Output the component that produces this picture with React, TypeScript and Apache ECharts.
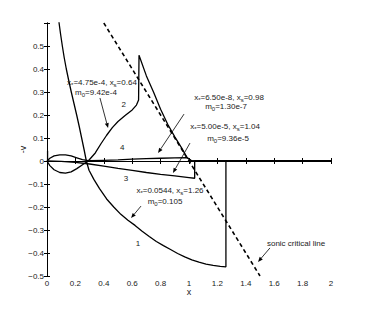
import React, { useEffect, useRef } from 'react';
import * as echarts from 'echarts';

// ---- data (x, -v) ----
const curve1: number[][] = [
  [0.08, 0.65], [0.085, 0.6], [0.096, 0.55], [0.108, 0.5], [0.121, 0.45], [0.136, 0.4],
  [0.153, 0.35], [0.171, 0.3], [0.19, 0.25], [0.209, 0.2], [0.227, 0.15], [0.244, 0.1],
  [0.261, 0.05], [0.277, 0], [0.296, -0.04], [0.33, -0.08], [0.37, -0.12], [0.42, -0.165],
  [0.47, -0.2], [0.52, -0.232], [0.57, -0.258], [0.62, -0.28], [0.67, -0.305], [0.72, -0.328],
  [0.77, -0.35], [0.82, -0.368], [0.87, -0.385], [0.92, -0.402], [0.97, -0.417], [1.02, -0.43],
  [1.07, -0.44], [1.12, -0.448], [1.17, -0.454], [1.22, -0.458], [1.26, -0.46], [1.26, 0], [2, 0],
];
const curve2: number[][] = [
  [0, 0], [0.02, -0.02], [0.05, -0.038], [0.09, -0.05], [0.13, -0.053], [0.17, -0.047],
  [0.21, -0.033], [0.25, -0.016], [0.29, 0], [0.34, 0.035], [0.38, 0.075], [0.42, 0.112],
  [0.46, 0.145], [0.5, 0.172], [0.55, 0.198], [0.6, 0.222], [0.63, 0.243], [0.645, 0.265],
  [0.648, 0.46], [0.7, 0.37], [0.75, 0.3], [0.8, 0.225], [0.85, 0.16], [0.9, 0.105],
  [0.95, 0.055], [0.985, 0.015], [1.02, 0], [2, 0],
];
const curve3: number[][] = [
  [0, 0], [0.1, -0.002], [0.2, -0.006], [0.3, -0.013], [0.4, -0.022], [0.5, -0.032],
  [0.6, -0.041], [0.7, -0.05], [0.8, -0.058], [0.9, -0.065], [1.0, -0.072], [1.04, -0.075],
  [1.04, 0], [2, 0],
];
const curve4: number[][] = [
  [0, 0], [0.02, 0.012], [0.05, 0.022], [0.09, 0.027], [0.13, 0.027], [0.17, 0.022],
  [0.21, 0.014], [0.25, 0.006], [0.3, 0.001], [0.4, 0.003], [0.5, 0.005], [0.6, 0.008],
  [0.7, 0.01], [0.8, 0.012], [0.9, 0.014], [0.985, 0.015], [1.02, 0], [2, 0],
];
const originSpike: number[][] = [[0.004, 0], [0.004, 0.045]];
const sonicLine: number[][] = [[0.4, 0.6], [1.5, -0.5]];

const curveLabels = [
  { text: '1', pos: [0.64, -0.36] },
  { text: '2', pos: [0.54, 0.245] },
  { text: '3', pos: [0.556, -0.074] },
  { text: '4', pos: [0.53, 0.06] },
];

const annotations = [
  { line1: '{n|x}{s|*}{n|=4.75e-4, x}{s|s}{n|=0.64}', line2: '{n|m}{s|0}{n|=9.42e-4}',
    p1: [0.387, 0.343], p2: [0.345, 0.296], from: [0.373, 0.274], to: [0.43, 0.143] },
  { line1: '{n|x}{s|*}{n|=6.50e-8, x}{s|s}{n|=0.98}', line2: '{n|m}{s|0}{n|=1.30e-7}',
    p1: [1.282, 0.278], p2: [1.261, 0.235], from: [0.965, 0.204], to: [0.782, 0.035] },
  { line1: '{n|x}{s|*}{n|=5.00e-5, x}{s|s}{n|=1.04}', line2: '{n|m}{s|0}{n|=9.36e-5}',
    p1: [1.254, 0.148], p2: [1.275, 0.1], from: [1.007, 0.078], to: [0.887, -0.052] },
  { line1: '{n|x}{s|*}{n|=0.0544, x}{s|s}{n|=1.26}', line2: '{n|m}{s|0}{n|=0.105}',
    p1: [0.866, -0.13], p2: [0.831, -0.174], from: [0.662, -0.196], to: [0.592, -0.248] },
];
const sonicNote = { text: 'sonic critical line', pos: [1.754, -0.357], from: [1.57, -0.378], to: [1.486, -0.439] };

const FONT = '"Liberation Sans", Arial, Helvetica, sans-serif';
const TXT = '#222';

export default function App() {
  const ref = useRef<HTMLDivElement>(null);
  useEffect(() => {
    if (!ref.current) return;
    const chart = echarts.init(ref.current, undefined, { renderer: 'svg' });
    const axisCommon = {
      type: 'value' as const,
      axisLine: { show: true, lineStyle: { color: '#000', width: 1 } },
      axisTick: { show: true, inside: true, length: 3, lineStyle: { color: '#000' } },
      splitLine: { show: false },
    };
    const lineSeries = (data: number[][], dashed = false) => ({
      type: 'line',
      data,
      showSymbol: false,
      symbol: 'none',
      silent: true,
      clip: true,
      lineStyle: { color: '#000', width: dashed ? 1.6 : 1.3, type: dashed ? [4, 3] : 'solid' },
      xAxisIndex: 0,
      yAxisIndex: 0,
    });
    chart.setOption({
      animation: false,
      backgroundColor: '#fff',
      grid: { left: 47, right: 35, top: 23, bottom: 35 },
      xAxis: [
        {
          ...axisCommon, position: 'bottom', min: 0, max: 2, interval: 0.2,
          name: 'x', nameLocation: 'middle', nameGap: 11, nameMoveOverlap: false,
          nameTextStyle: { fontSize: 9, color: TXT, fontFamily: FONT },
          axisLabel: { fontSize: 8, color: TXT, fontFamily: FONT, margin: 3 },
        },
        {
          ...axisCommon, position: 'top', min: 0, max: 2, interval: 0.2,
          axisLabel: { show: false },
        },
      ],
      yAxis: [
        {
          ...axisCommon, position: 'left', min: -0.5, max: 0.6, interval: 0.1,
          name: '-v', nameLocation: 'middle', nameGap: 20, nameRotate: 90, nameMoveOverlap: false,
          nameTextStyle: { fontSize: 9, color: TXT, fontFamily: FONT },
          axisLabel: {
            fontSize: 8, color: TXT, fontFamily: FONT, margin: 3,
            formatter: (v: number) => {
              const r = Math.round(v * 10) / 10;
              if (r >= 0.6) return '';
              return r < 0 ? '\u2212' + Math.abs(r) : String(r);
            },
          },
        },
        {
          ...axisCommon, position: 'right', min: -0.5, max: 0.6, interval: 0.1,
          axisLabel: { show: false },
        },
      ],
      series: [
        lineSeries(sonicLine, true),
        lineSeries(curve1),
        lineSeries(curve2),
        lineSeries(curve3),
        lineSeries(curve4),
        lineSeries(originSpike),
      ],
    });

    const px = (p: number[]) => chart.convertToPixel({ gridIndex: 0 }, p) as number[];
    const arrow = (a: number[], b: number[]) => {
      const p0 = px(a), p1 = px(b);
      const dx = p1[0] - p0[0], dy = p1[1] - p0[1];
      const len = Math.hypot(dx, dy) || 1;
      const ux = dx / len, uy = dy / len;
      const L = 5, W = 2;
      const bx = p1[0] - ux * L, by = p1[1] - uy * L;
      return [
        { type: 'line', silent: true, shape: { x1: p0[0], y1: p0[1], x2: bx, y2: by }, style: { stroke: '#000', lineWidth: 0.8 } },
        { type: 'polygon', silent: true, shape: { points: [[p1[0], p1[1]], [bx - uy * W, by + ux * W], [bx + uy * W, by - ux * W]] }, style: { fill: '#000' } },
      ];
    };
    const rich = {
      n: { fontSize: 8, lineHeight: 11, fontFamily: FONT, color: TXT },
      s: { fontSize: 6, lineHeight: 6, fontFamily: FONT, color: TXT, verticalAlign: 'bottom' },
    };
    const text = (t: string, p: number[], size = 8) => {
      const q = px(p);
      return {
        type: 'text', silent: true, x: q[0], y: q[1],
        style: {
          text: t, rich, fontSize: size, fontFamily: FONT, fill: TXT,
          align: 'center', verticalAlign: 'middle', textAlign: 'center', textVerticalAlign: 'middle',
        },
      };
    };
    const graphics: any[] = [];
    annotations.forEach((a) => {
      graphics.push(text(a.line1, a.p1));
      graphics.push(text(a.line2, a.p2));
      graphics.push(...arrow(a.from, a.to));
    });
    curveLabels.forEach((c) => graphics.push(text(c.text, c.pos)));
    graphics.push(text(sonicNote.text, sonicNote.pos));
    graphics.push(...arrow(sonicNote.from, sonicNote.to));
    chart.setOption({ graphic: graphics });

    return () => chart.dispose();
  }, []);
  return (
    <div
      ref={ref}
      style={{ position: 'fixed', left: 0, top: 0, width: 366, height: 311, background: '#fff' }}
    />
  );
}
